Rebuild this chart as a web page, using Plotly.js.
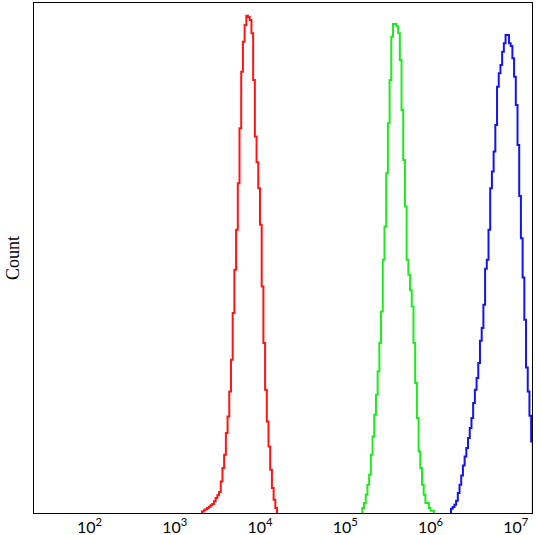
<!DOCTYPE html>
<html>
<head>
<meta charset="utf-8">
<script src="https://cdn.plot.ly/plotly-3.0.1.min.js"></script>
<style>
  html, body { margin: 0; padding: 0; background: #fff; }
  #chart { width: 541px; height: 535px; }
</style>
</head>
<body>
<div id="chart"></div>
<script>
// Histogram channel width (decades per bin) and first-bin left edges (log10)
const binWidthDecades = 0.02;
const redStartLog = 3.32;
const greenStartLog = 5.20;
const blueStartLog = 6.24;

// Counts per channel
const redCounts = [1.6, 2.8, 3.8, 5, 6.3, 7.8, 9, 11.8, 15, 17.8, 21, 31.6, 45, 58.3, 80, 96.6,
  121.6, 153.3, 200, 243.3, 283.3, 330, 385, 441.6, 471.6, 488.3,
  497.6, 496.3, 493.3, 480, 433.3, 376.6, 351, 325, 288.3, 226.6, 170, 123.3, 91.6, 66.6,
  43.3, 25, 13.3, 5];
const greenCounts = [5, 10, 18.3, 28.3, 38.3, 58.3, 76.6, 98.3, 118.3, 141.6, 170, 201.6,
  253.3, 286.6, 340, 390, 433.3, 476.6,
  489.3, 489.3, 487, 480, 453.3, 403.3, 353.3, 306.6, 253.3, 238.3, 223, 206.6, 170, 130,
  95, 61.6, 45, 28.3, 18.3, 10, 10, 5, 2.3, 2.3];
const blueCounts = [4.3, 6, 8.3, 12.3, 20, 28.3, 37.6, 47.6, 56.6, 65, 75, 85, 95, 110, 123.3,
  135, 150, 172.3, 185, 208.3, 244.3, 253.3, 283.3, 325, 341.6, 361.6, 388.3, 426.6, 440,
  448.3, 461.6, 470, 478.3, 478.3, 470, 467.3, 455, 436.6, 408.3, 368.3, 317.3, 275, 235.6,
  193.3, 145.6, 121.6, 97.3, 71.6];

const xTickVals = [1e2, 1e3, 1e4, 1e5, 1e6, 1e7];
const xTickText = ['10<sup>2</sup>', '10<sup>3</sup>', '10<sup>4</sup>', '10<sup>5</sup>', '10<sup>6</sup>', '10<sup>7</sup>'];
const yTitle = 'Count';

function stepTrace(startLog, counts, color) {
  const xs = [], ys = [];
  xs.push(Math.pow(10, startLog)); ys.push(0);
  for (let i = 0; i < counts.length; i++) {
    const left = Math.pow(10, startLog + i * binWidthDecades);
    const right = Math.pow(10, startLog + (i + 1) * binWidthDecades);
    xs.push(left, right); ys.push(counts[i], counts[i]);
  }
  xs.push(Math.pow(10, startLog + counts.length * binWidthDecades)); ys.push(0);
  return { type: 'scatter', mode: 'lines', x: xs, y: ys,
    line: { color: color, width: 2, shape: 'linear' }, hoverinfo: 'skip', showlegend: false };
}

const data = [
  stepTrace(redStartLog, redCounts, 'rgb(255,20,20)'),
  stepTrace(greenStartLog, greenCounts, 'rgb(30,235,30)'),
  stepTrace(blueStartLog, blueCounts, 'rgb(20,20,240)')
];

const layout = {
  width: 541, height: 535,
  margin: { l: 34, r: 9, t: 3, b: 22, pad: 0 },
  paper_bgcolor: '#fff', plot_bgcolor: '#fff',
  showlegend: false,
  xaxis: {
    type: 'log', range: [1.35, 7.19], autorange: false,
    tickmode: 'array', tickvals: xTickVals, ticktext: xTickText,
    ticks: '', showgrid: false, zeroline: false,
    showline: true, mirror: true, linecolor: '#000', linewidth: 1,
    ticklabelstandoff: 0,
    tickfont: { family: 'Lato, "Open Sans", sans-serif', size: 16, color: '#000' }
  },
  yaxis: {
    range: [0, 510.3], autorange: false,
    showticklabels: false, ticks: '', showgrid: false, zeroline: false,
    showline: true, mirror: true, linecolor: '#000', linewidth: 1,
    title: { text: yTitle, standoff: 8, font: { family: '"Liberation Serif", "DejaVu Serif", serif', size: 18, color: '#000' } }
  }
};

Plotly.newPlot('chart', data, layout, { staticPlot: true, displayModeBar: false });
</script>
</body>
</html>
